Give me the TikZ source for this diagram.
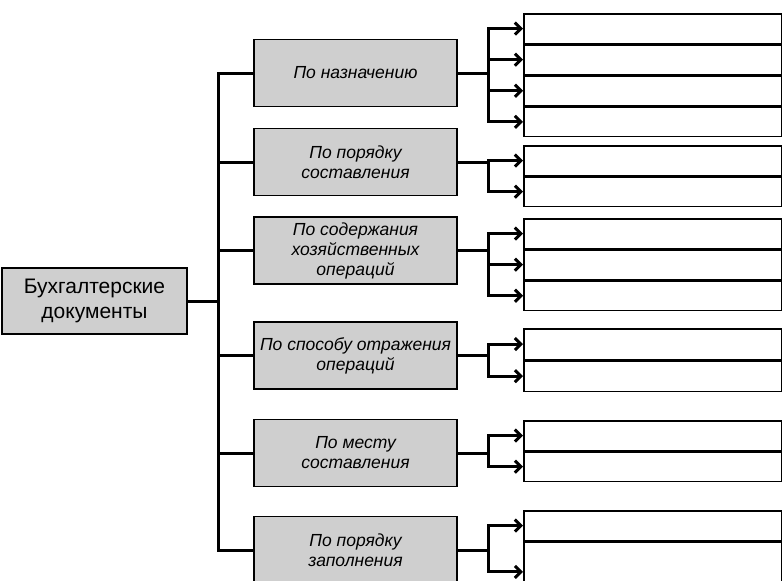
\documentclass[tikz,border=0pt]{standalone}
\usepackage{fontspec}
\setmainfont{Liberation Sans}
\usepackage{tikz}
\usetikzlibrary{
	positioning,
	arrows.meta
}

\begin{document}
\begin{tikzpicture}[x=1pt,y=-1pt,
		root/.style={draw,line width=1.8pt,fill=gray!38,minimum width=185pt,minimum height=66pt,align=center,font=\fontsize{21}{25}\selectfont},
		cat/.style={draw,line width=1.8pt,fill=gray!38,minimum width=203pt,minimum height=67pt,align=center,font=\fontsize{17.5}{20}\selectfont\itshape},
		slot/.style={draw,line width=1.6pt,fill=white,minimum width=258pt,minimum height=29.5pt,anchor=north west},
		link/.style={line width=3pt},
		arr/.style={line width=3pt,-{Straight Barb[length=6pt,width=12pt]}}
	]
		\useasboundingbox (0,0) rectangle (782,581);

		\draw
			node[root] (doc) at (94.5,301) {Бухгалтерские\\документы}

			node[cat] (c1) at (355.5,73)    {По назначению}
			node[cat] (c2) at (355.5,162)   {По порядку\\составления}
			node[cat] (c3) at (355.5,250.5) {По содержания\\хозяйственных\\операций}
			node[cat] (c4) at (355.5,355.5) {По способу отражения\\операций}
			node[cat] (c5) at (355.5,453)   {По месту\\составления}
			node[cat] (c6) at (355.5,550)   {По порядку\\заполнения}
		;

		% empty slots to fill in
		\draw
			node[slot] (s11) at (523,13) {}
			node[slot,below=0pt of s11] (s12) {}
			node[slot,below=0pt of s12] (s13) {}
			node[slot,below=0pt of s13] (s14) {}

			node[slot] (s21) at (523,145) {}
			node[slot,below=0pt of s21] (s22) {}

			node[slot] (s31) at (523,218) {}
			node[slot,below=0pt of s31] (s32) {}
			node[slot,below=0pt of s32] (s33) {}

			node[slot,minimum height=30.5pt] (s41) at (523,328) {}
			node[slot,minimum height=30.5pt,below=0pt of s41] (s42) {}

			node[slot] (s51) at (523,420) {}
			node[slot,below=0pt of s51] (s52) {}

			node[slot] (s61) at (523,510) {}
			node[slot,minimum height=60pt,below=0pt of s61] (s62) {}
		;

		% main bus
		\draw[link] (doc.east) -- ++(31,0) coordinate (hub);
		\foreach \c in {c1,c2,c3,c4,c5,c6}
			\draw[link] (hub) |- (\c.west);

		% branches
		\draw[link] (c1.east) -- ++(31,0) coordinate (h1);
		\foreach \s in {s11,s12,s13,s14}
			\draw[arr] (h1) |- (\s.west);

		\draw[link] (c2.east) -- ++(31,0) coordinate (h2);
		\foreach \s in {s21,s22}
			\draw[arr] (h2) |- (\s.west);

		\draw[link] (c3.east) -- ++(31,0) coordinate (h3);
		\foreach \s in {s31,s32,s33}
			\draw[arr] (h3) |- (\s.west);

		\draw[link] (c4.east) -- ++(31,0) coordinate (h4);
		\foreach \s in {s41,s42}
			\draw[arr] (h4) |- (\s.west);

		\draw[link] (c5.east) -- ++(31,0) coordinate (h5);
		\foreach \s in {s51,s52}
			\draw[arr] (h5) |- (\s.west);

		\draw[link] (c6.east) -- ++(31,0) coordinate (h6);
		\foreach \s in {s61,s62}
			\draw[arr] (h6) |- (\s.west);
	\end{tikzpicture}
\end{document}
